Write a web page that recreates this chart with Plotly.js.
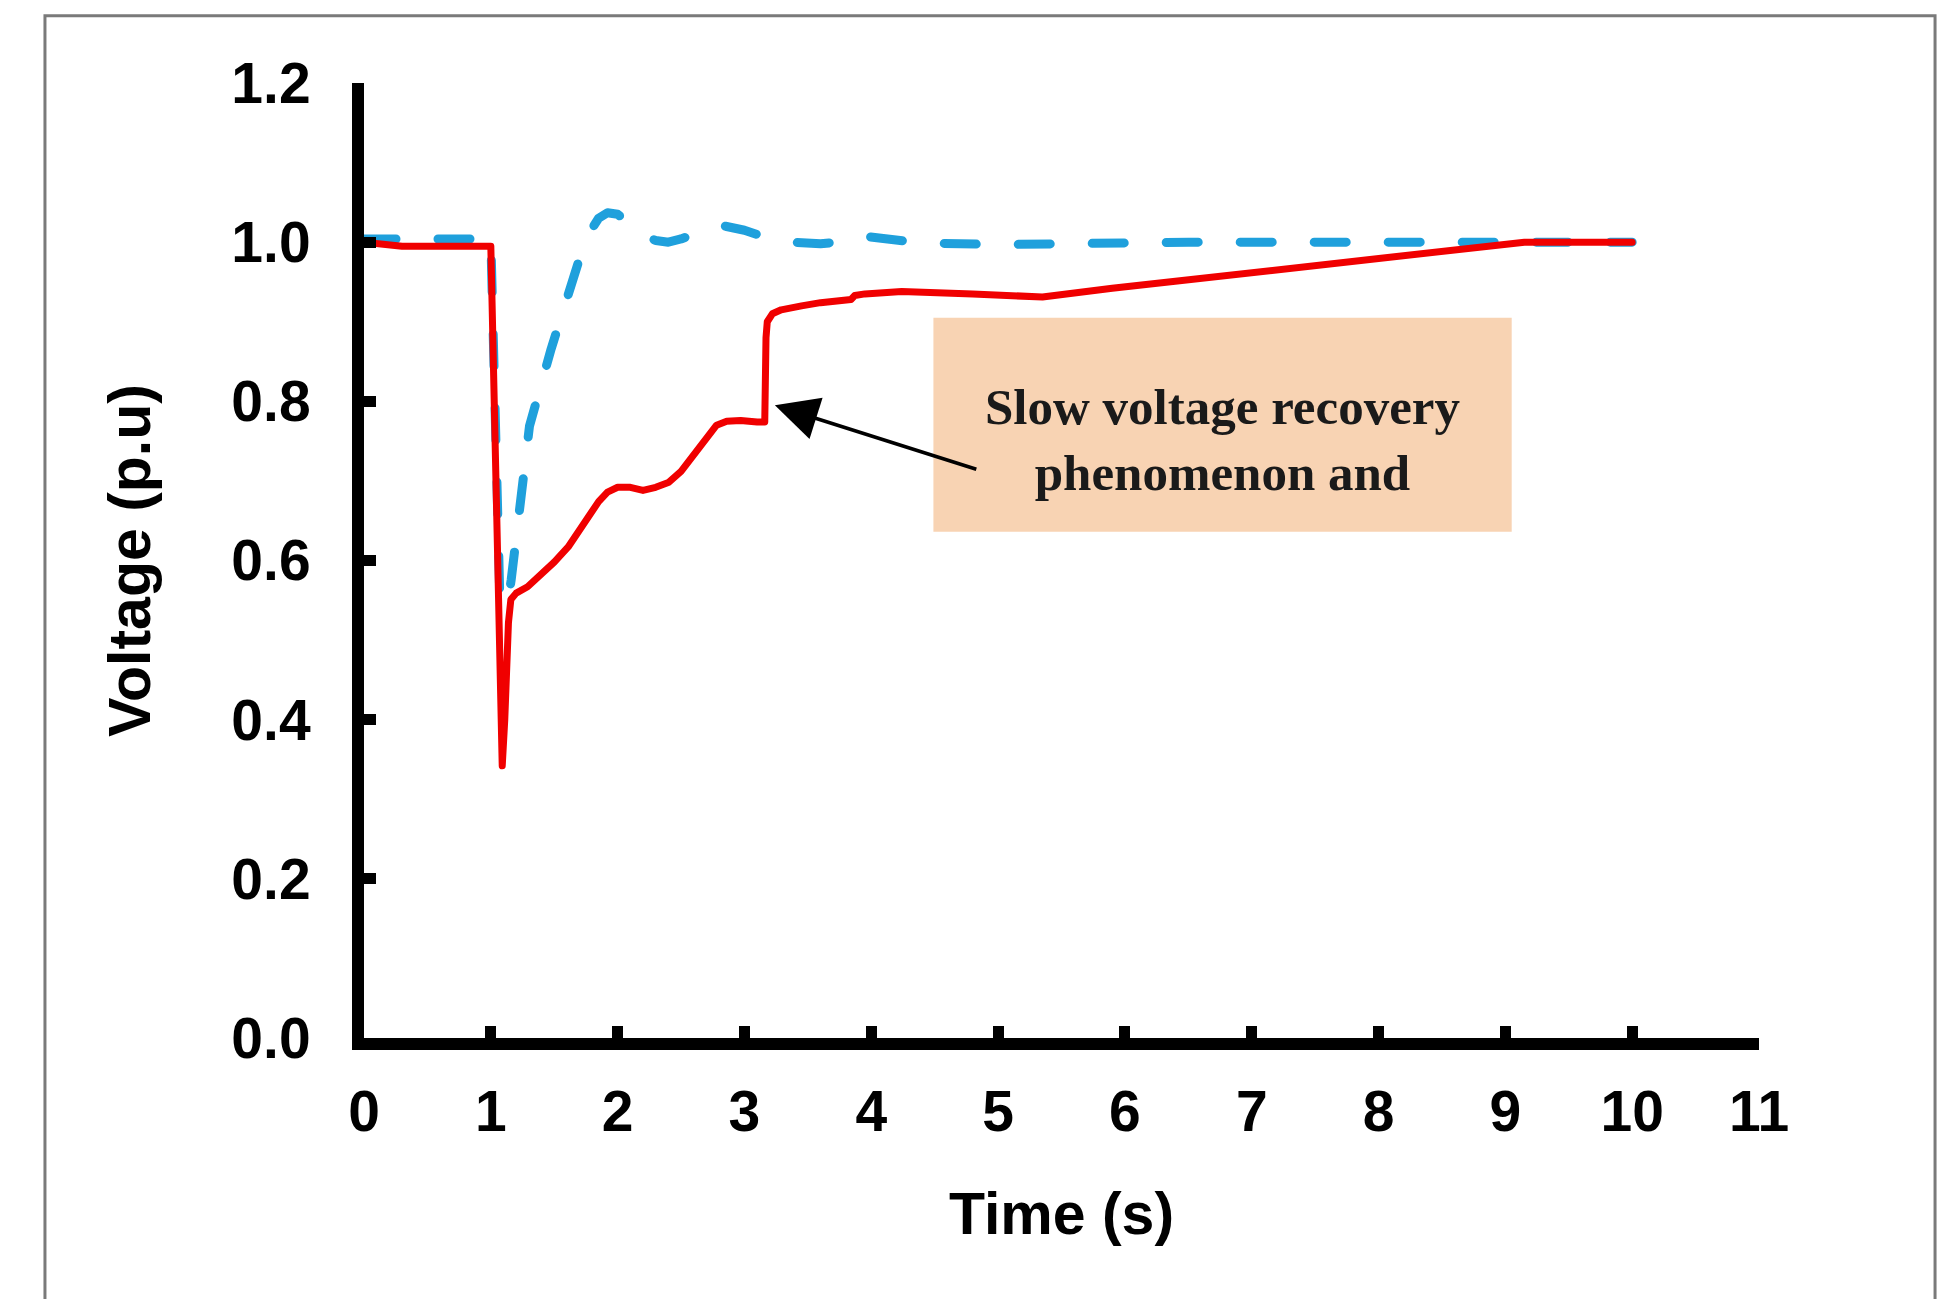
<!DOCTYPE html>
<html>
<head>
<meta charset="utf-8">
<script src="https://cdn.plot.ly/plotly-3.0.1.min.js"></script>
<style>
  html, body { margin: 0; padding: 0; background: #ffffff; }
  #chart { width: 1942px; height: 1299px; }
  .scatterlayer .js-line { stroke-linecap: round; stroke-linejoin: round; }
</style>
</head>
<body>
<div id="chart"></div>
<script>
// Red curve (slow recovery) – time (s) and voltage (p.u)
const redTime = [0, 0.3, 1.0, 1.05, 1.09, 1.11, 1.126, 1.139, 1.158, 1.2, 1.29, 1.4, 1.5, 1.61, 1.7, 1.77, 1.85, 1.92, 2.0, 2.1, 2.2, 2.3, 2.4, 2.5, 2.6, 2.7, 2.78, 2.86, 2.97, 3.1, 3.16, 3.17, 3.18, 3.22, 3.29, 3.45, 3.6, 3.84, 3.87, 3.95, 4.24, 4.8, 5.35, 5.9, 6.9, 7.9, 8.8, 9.15, 10.0];
const redVolt = [1.0, 0.995, 0.995, 0.62, 0.342, 0.40, 0.473, 0.522, 0.551, 0.559, 0.567, 0.583, 0.598, 0.617, 0.638, 0.656, 0.674, 0.686, 0.692, 0.692, 0.688, 0.692, 0.698, 0.712, 0.733, 0.756, 0.770, 0.775, 0.776, 0.774, 0.774, 0.88, 0.90, 0.91, 0.915, 0.920, 0.924, 0.928, 0.933, 0.935, 0.938, 0.935, 0.931, 0.942, 0.96, 0.978, 0.994, 1.0, 1.0];

// Blue dashed curve (fast recovery)
const blueTime = [0, 1.0, 1.07, 1.13, 1.16, 1.226, 1.305, 1.476, 1.659, 1.75, 1.85, 1.92, 2.0, 2.1, 2.2, 2.3, 2.4, 2.5, 2.65, 2.85, 3.0, 3.15, 3.35, 3.6, 3.8, 3.97, 4.15, 4.4, 5.0, 5.5, 6.5, 8.0, 10.0];
const blueVolt = [1.004, 1.004, 0.56, 0.543, 0.575, 0.667, 0.769, 0.866, 0.963, 1.005, 1.030, 1.037, 1.035, 1.022, 1.010, 1.002, 1.0, 1.004, 1.013, 1.020, 1.015, 1.007, 1.0, 0.998, 1.001, 1.007, 1.004, 0.999, 0.997, 0.998, 1.0, 1.0, 1.0];

// Annotation content
const noteLines = ["Slow voltage recovery", "phenomenon and"];
const notePos = {x: 6.77, y: 0.752};
const noteBox = {x0: 4.49, x1: 9.05, y0: 0.636, y1: 0.905};
const arrowTip = {x: 3.24, y: 0.795};
const arrowTail = {x: 4.84, y: 0.714};

const xTitle = "Time (s)";
const yTitle = "Voltage (p.u)";

const axisFont = {family: "Liberation Sans, Arial, sans-serif", size: 57, color: "#000000", weight: "bold"};
const titleFont = {family: "Liberation Sans, Arial, sans-serif", size: 59, color: "#000000", weight: "bold"};

const traces = [
  {
    x: blueTime, y: blueVolt, type: "scatter", mode: "lines",
    line: {color: "#1FA0DC", width: 9, dash: "32px,42px", shape: "linear"},
    hoverinfo: "skip", showlegend: false
  },
  {
    x: redTime, y: redVolt, type: "scatter", mode: "lines",
    line: {color: "#F00000", width: 7, shape: "linear"},
    hoverinfo: "skip", showlegend: false
  }
];

const layout = {
  width: 1942, height: 1299,
  margin: {l: 364, r: 183, t: 83, b: 261},
  paper_bgcolor: "#ffffff", plot_bgcolor: "#ffffff",
  showlegend: false,
  xaxis: {
    range: [0, 11], dtick: 1, tick0: 0,
    showline: true, linecolor: "#000000", linewidth: 12,
    ticks: "inside", ticklen: 12, tickwidth: 11, tickcolor: "#000000",
    showgrid: false, zeroline: false,
    tickfont: axisFont, ticklabelstandoff: 13,
    title: {text: xTitle, font: titleFont, standoff: 55},
    automargin: false
  },
  yaxis: {
    range: [0, 1.2], dtick: 0.2, tick0: 0, tickformat: ".1f",
    showline: true, linecolor: "#000000", linewidth: 12,
    ticks: "inside", ticklen: 12, tickwidth: 11, tickcolor: "#000000",
    showgrid: false, zeroline: false,
    tickfont: axisFont, ticklabelstandoff: 30,
    title: {text: yTitle, font: titleFont, standoff: 67},
    automargin: false
  },
  shapes: [
    {
      type: "rect", xref: "paper", yref: "paper",
      x0: -0.2287, x1: 1.1262, y0: -0.30, y1: 1.0704,
      line: {color: "#7a7a7a", width: 3}, fillcolor: "rgba(0,0,0,0)", layer: "below"
    },
    {
      type: "rect", xref: "x", yref: "y",
      x0: noteBox.x0, x1: noteBox.x1, y0: noteBox.y0, y1: noteBox.y1,
      line: {width: 0}, fillcolor: "#F8D3B3", layer: "below"
    }
  ],
  annotations: [
    {
      x: notePos.x, y: notePos.y, xref: "x", yref: "y",
      text: noteLines.join("<br>"), showarrow: false,
      font: {family: "Liberation Serif, Times New Roman, serif", size: 51, color: "#1a1a1a", weight: "bold"},
      align: "center"
    },
    {
      x: arrowTip.x, y: arrowTip.y, xref: "x", yref: "y",
      ax: arrowTail.x, ay: arrowTail.y, axref: "x", ayref: "y",
      text: "", showarrow: true, arrowhead: 2, arrowsize: 2.4, arrowwidth: 3.6, arrowcolor: "#000000"
    }
  ]
};

Plotly.newPlot("chart", traces, layout, {staticPlot: true, displayModeBar: false});
</script>
</body>
</html>
